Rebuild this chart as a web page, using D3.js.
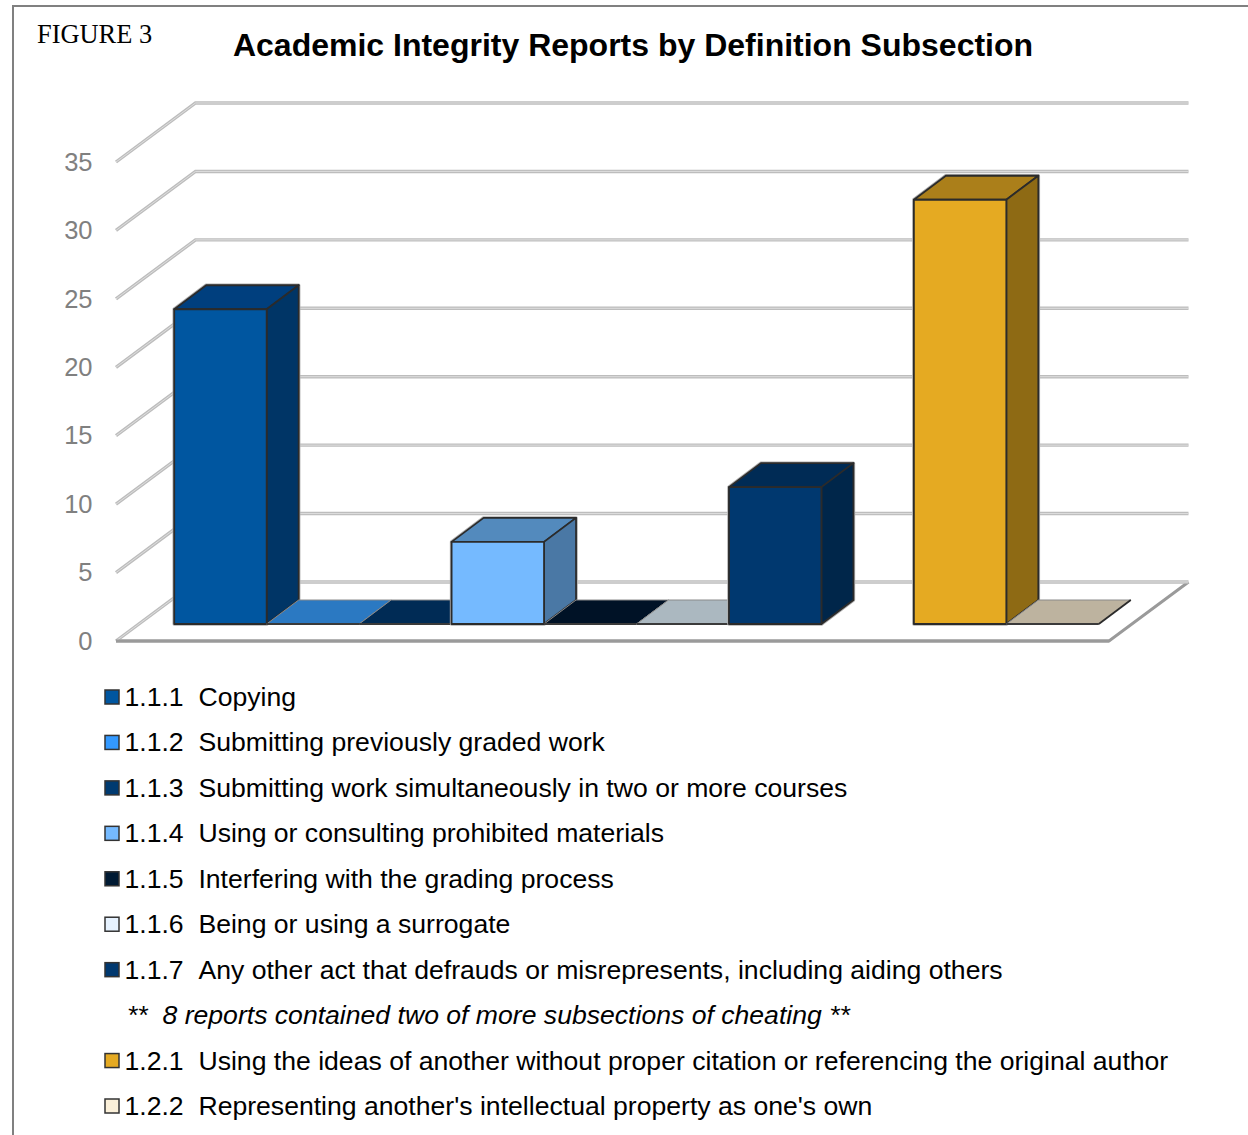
<!DOCTYPE html>
<html>
<head>
<meta charset="utf-8">
<script src="https://cdn.jsdelivr.net/npm/d3@7"></script>
<style>
  html, body { margin: 0; padding: 0; background: #fff; }
  svg { display: block; }
  text { font-family: "Liberation Sans", Arial, sans-serif; white-space: pre; font-kerning: none; }
</style>
</head>
<body>
<svg width="1248" height="1135"></svg>
<script>
const codes = ["1.1.1", "1.1.2", "1.1.3", "1.1.4", "1.1.5", "1.1.6", "1.1.7", "note", "1.2.1", "1.2.2"];
const labels = [
  "Copying",
  "Submitting previously graded work",
  "Submitting work simultaneously in two or more courses",
  "Using or consulting prohibited materials",
  "Interfering with the grading process",
  "Being or using a surrogate",
  "Any other act that defrauds or misrepresents, including aiding others",
  "**  8 reports contained two of more subsections of cheating **",
  "Using the ideas of another without proper citation or referencing the original author",
  "Representing another's intellectual property as one's own"
];
const reports = [23, 0, 0, 6, 0, 0, 10, null, 31, 0];
const yTicks = [0, 5, 10, 15, 20, 25, 30, 35];

const frontColors = ["#0056a0", "#3399ff", "#003a70", "#75baff", "#001a33", "#e6f2ff", "#00386f", null, "#e5aa22", "#fbf0d9"];
const topColors = ["#003f7e", "#2b79c2", "#002b55", "#538abd", "#001226", "#abb8c0", "#002b55", null, "#ab7f1a", "#bdb39f"];
const sideColors = ["#003566", "#003566", "#00264a", "#4a78a5", "#000f20", "#8a98a0", "#00264a", null, "#8e6a14", "#9a917e"];

const WIDTH = 1248,
  FLOOR_LEFT = 116,
  FLOOR_RIGHT = 1109,
  FLOOR_DX = 79.5,
  FLOOR_DY = 59,
  BAR_DX = 32,
  BAR_DY = 24,
  BASE_Y = 624;

const svg = d3.select("svg");

// page frame, open at the bottom and right like the scan
svg.append("path")
  .attr("d", `M 13,1135 L 13,6 L ${WIDTH},6`)
  .attr("fill", "none")
  .attr("stroke", "#808080")
  .attr("stroke-width", 2);

svg.append("text")
  .text("FIGURE 3")
  .attr("x", 37)
  .attr("y", 43)
  .attr("font-size", 26.4)
  .style("font-family", '"Liberation Serif", serif')
  .attr("fill", "#000");

svg.append("text")
  .text("Academic Integrity Reports by Definition Subsection")
  .attr("x", 633)
  .attr("y", 56)
  .attr("text-anchor", "middle")
  .attr("font-size", 32)
  .attr("font-weight", "bold")
  .attr("fill", "#000");

// y is measured on the plane through the bar fronts
const y = d3.scaleLinear().domain([0, 35]).range([BASE_Y, 145]);
const x = d3.scaleBand()
  .domain(codes)
  .range([FLOOR_LEFT + 24, FLOOR_RIGHT + 24])
  .paddingInner(0)
  .paddingOuter(0.37);

const frontY = v => y(v) + 17; // where the value hits the left edge of the wall
const backY = v => frontY(v) - FLOOR_DY;
const backLeft = FLOOR_LEFT + FLOOR_DX;
const backRight = FLOOR_RIGHT + FLOOR_DX;

// floor
const floor = svg.append("g");
floor.append("path")
  .attr("d", `M ${FLOOR_LEFT},${frontY(0)} L ${FLOOR_RIGHT},${frontY(0)} L ${backRight},${backY(0)}`)
  .attr("fill", "none")
  .attr("stroke", "#9a9a9a")
  .attr("stroke-width", 3);

// wall lines
const grid = svg.append("g")
  .selectAll("g")
  .data(yTicks)
  .enter()
  .append("g");
const gridPath = d => `M ${FLOOR_LEFT},${frontY(d)} L ${backLeft},${backY(d)} L ${backRight},${backY(d)}`;
grid.append("path")
  .attr("d", gridPath)
  .attr("fill", "none")
  .attr("stroke", "#bdbdbd")
  .attr("stroke-width", 3.4);
grid.append("path")
  .attr("d", gridPath)
  .attr("fill", "none")
  .attr("stroke", "#dedede")
  .attr("stroke-width", 1);

svg.append("path")
  .attr("d", `M ${FLOOR_LEFT},${frontY(0)} L ${FLOOR_RIGHT},${frontY(0)}`)
  .attr("stroke", "#9a9a9a")
  .attr("stroke-width", 3);

// tick labels
const axis = d3.axisLeft(frontScale()).tickValues(yTicks).tickSize(0).tickPadding(0);
function frontScale() {
  return d3.scaleLinear().domain(y.domain()).range(y.domain().map(frontY));
}
const axisG = svg.append("g")
  .attr("transform", "translate(92.5,0)")
  .call(axis);
axisG.select(".domain").remove();
axisG.selectAll("text")
  .attr("font-size", 25.5)
  .attr("fill", "#808080")
  .style("font-family", '"Liberation Sans", Arial, sans-serif');

// bars, left to right so each covers the one before it
const barData = codes
  .map((code, i) => ({ code, value: reports[i], front: frontColors[i], top: topColors[i], side: sideColors[i] }))
  .filter(d => d.value !== null);

const bar = svg.append("g")
  .selectAll("g")
  .data(barData)
  .enter()
  .append("g")
  .attr("stroke-linejoin", "round");

const W = x.bandwidth();

// soft halo the source image has round its dark outlines
bar.filter(d => d.value > 0).append("path")
  .attr("d", d => {
    const x0 = x(d.code), t = y(d.value);
    return `M ${x0},${BASE_Y} L ${x0},${t} L ${x0 + BAR_DX},${t - BAR_DY} L ${x0 + W + BAR_DX},${t - BAR_DY} L ${x0 + W + BAR_DX},${BASE_Y - BAR_DY} L ${x0 + W},${BASE_Y} Z`;
  })
  .attr("fill", "none")
  .attr("stroke", "#b0b0b0")
  .attr("stroke-width", 3.5);

bar.append("path")
  .attr("d", d => {
    const x0 = x(d.code), t = y(d.value);
    return `M ${x0},${t} L ${x0 + BAR_DX},${t - BAR_DY} L ${x0 + W + BAR_DX},${t - BAR_DY} L ${x0 + W},${t} Z`;
  })
  .attr("fill", d => d.top)
  .attr("stroke", d => (d.value > 0 ? "#2b2b2b" : "#8a8a8a"))
  .attr("stroke-width", d => (d.value > 0 ? 1.8 : 1));

const tall = bar.filter(d => d.value > 0);
tall.append("path")
  .attr("d", d => {
    const x1 = x(d.code) + W, t = y(d.value);
    return `M ${x1},${t} L ${x1 + BAR_DX},${t - BAR_DY} L ${x1 + BAR_DX},${BASE_Y - BAR_DY} L ${x1},${BASE_Y} Z`;
  })
  .attr("fill", d => d.side)
  .attr("stroke", "#2b2b2b")
  .attr("stroke-width", 1.8);
tall.append("rect")
  .attr("x", d => x(d.code))
  .attr("y", d => y(d.value))
  .attr("width", W)
  .attr("height", d => BASE_Y - y(d.value))
  .attr("fill", d => d.front)
  .attr("stroke", "#2b2b2b")
  .attr("stroke-width", 1.8);

// flat bars still carry a dark front edge
bar.filter(d => d.value === 0).append("path")
  .attr("d", d => `M ${x(d.code)},${BASE_Y} L ${x(d.code) + W},${BASE_Y}`)
  .attr("stroke", "#3a3a3a")
  .attr("stroke-width", 1.8);
bar.filter(d => d.code === "1.2.2").append("path")
  .attr("d", d => `M ${x(d.code) + W},${BASE_Y} L ${x(d.code) + W + BAR_DX},${BASE_Y - BAR_DY}`)
  .attr("stroke", "#2b2b2b")
  .attr("stroke-width", 1.8);

// legend
const legendY = d3.scalePoint().domain(codes).range([697, 1106]);
const legend = svg.append("g")
  .selectAll("g")
  .data(codes)
  .enter()
  .append("g")
  .attr("transform", d => `translate(0,${legendY(d)})`);

legend.filter(d => d !== "note").append("rect")
  .attr("x", 105)
  .attr("y", -7)
  .attr("width", 14)
  .attr("height", 14)
  .attr("fill", d => frontColors[codes.indexOf(d)])
  .attr("stroke", "#333")
  .attr("stroke-width", 1.5);

legend.append("text")
  .text(d => (d === "note" ? labels[codes.indexOf(d)] : `${d}  ${labels[codes.indexOf(d)]}`))
  .attr("x", d => (d === "note" ? 127 : 124.5))
  .attr("y", 9)
  .attr("font-size", 26.6)
  .attr("font-style", d => (d === "note" ? "italic" : "normal"))
  .attr("fill", "#000");
</script>
</body>
</html>
